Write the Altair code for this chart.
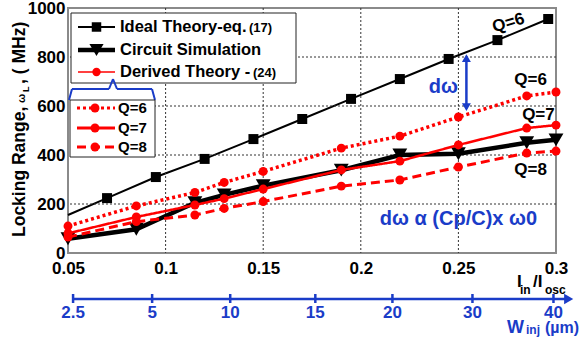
import altair as alt
import pandas as pd

FONT = "Liberation Sans"
BLUE = "#1a3cc8"
RED = "#ff0000"

# ---- data ----
ideal_x = [0.05, 0.07, 0.095, 0.12, 0.145, 0.17, 0.195, 0.22, 0.245, 0.27, 0.296]
ideal_y = [155, 224, 310, 384, 465, 547, 629, 710, 792, 869, 955]

ratio_x = [0.05, 0.085, 0.115, 0.13, 0.15, 0.19, 0.22, 0.25, 0.285, 0.3]
sim_y = [58, 97, 205, 237, 275, 338, 400, 405, 450, 462]
q6_y = [110, 192, 247, 288, 333, 428, 477, 555, 641, 657]
q7_y = [80, 147, 196, 222, 261, 339, 375, 441, 510, 522]
q8_y = [65, 128, 155, 182, 210, 273, 298, 351, 408, 416]

x_ticks = [0.05, 0.1, 0.15, 0.2, 0.25, 0.3]
y_ticks = [0, 200, 400, 600, 800, 1000]
x_grid = [0.1, 0.15, 0.2, 0.25]
y_grid = [200, 400, 600, 800]

# secondary (injection width) axis: labels and their position on the Iin/Iosc scale
w_labels = ["2.5", "5", "10", "15", "20", "30", "40"]
w_pos = [0.0526, 0.0931, 0.1331, 0.1767, 0.2162, 0.2572, 0.2987]

df_ideal = pd.DataFrame({"x": ideal_x, "y": ideal_y})
df_red = pd.DataFrame({"x": ratio_x, "sim": sim_y, "q6": q6_y, "q7": q7_y, "q8": q8_y})
df_w = pd.DataFrame({"lab": w_labels, "pos": w_pos})
df_xg = pd.DataFrame({"g": x_grid})
df_yg = pd.DataFrame({"g": y_grid})
one = pd.DataFrame({"a": [0]})

xs = alt.Scale(domain=[0.05, 0.3], nice=False, zero=False)
ys = alt.Scale(domain=[0, 1000], nice=False, zero=False)

xaxis = alt.Axis(values=x_ticks, format="~g", labelFont=FONT, labelFontWeight="bold",
                 labelFontSize=17, labelPadding=7, domain=False, ticks=False, grid=False,
                 title=None, labelColor="black", labelFlush=False, labelOverlap=False)
yaxis = alt.Axis(values=y_ticks, format="d", labelFont=FONT, labelFontWeight="bold",
                 labelFontSize=17, labelPadding=3, domain=False, ticks=False, grid=False,
                 title=None, labelColor="black", labelOverlap=False)


def X(field):
    return alt.X(field, type="quantitative", scale=xs, axis=xaxis)


def Y(field):
    return alt.Y(field, type="quantitative", scale=ys, axis=yaxis)


def XD(v):
    return alt.XDatum(v, scale=xs, axis=xaxis)


def YD(v):
    return alt.YDatum(v, scale=ys, axis=yaxis)


def txt(s, px, py, size=16, color="black", align="left", angle=0, weight="bold", baseline="middle"):
    return alt.Chart(one).mark_text(text=s, fontSize=size, font=FONT, fontWeight=weight,
                                    color=color, align=align, baseline=baseline,
                                    angle=angle).encode(x=alt.value(px), y=alt.value(py))


def dtxt(s, dx, dy, size=17, color="black", angle=0):
    return alt.Chart(one).mark_text(text=s, fontSize=size, font=FONT, fontWeight="bold",
                                    color=color, align="center", baseline="middle",
                                    angle=angle).encode(x=XD(dx), y=YD(dy))


def seg(x1, y1, x2, y2, color=BLUE, w=2):
    return alt.Chart(one).mark_rule(color=color, strokeWidth=w).encode(
        x=alt.value(x1), y=alt.value(y1), x2=alt.value(x2), y2=alt.value(y2))


layers = []
# series first (carry the axes)
layers.append(alt.Chart(df_ideal).mark_line(color="black", strokeWidth=2).encode(
    x=X("x"), y=Y("y")))
# grid
layers.append(alt.Chart(df_xg).mark_rule(color="#333", strokeDash=[2, 2], strokeWidth=1).encode(x=X("g")))
layers.append(alt.Chart(df_yg).mark_rule(color="#333", strokeDash=[2, 2], strokeWidth=1).encode(y=Y("g")))

layers.append(alt.Chart(df_ideal).transform_filter("datum.x > 0.05").mark_point(
    shape="square", filled=True, size=100, color="black", opacity=1).encode(x=X("x"), y=Y("y")))

layers.append(alt.Chart(df_red).mark_line(color="black", strokeWidth=4.5).encode(x=X("x"), y=Y("sim")))
layers.append(alt.Chart(df_red).mark_point(shape="triangle-down", filled=True, size=220,
                                           color="black", opacity=1).encode(x=X("x"), y=Y("sim")))

for field, dash, w in [("q6", [3, 3], 3.5), ("q7", [1, 0], 2.5), ("q8", [9, 5], 3)]:
    layers.append(alt.Chart(df_red).mark_line(color=RED, strokeWidth=w, strokeDash=dash).encode(
        x=X("x"), y=Y(field)))
    layers.append(alt.Chart(df_red).mark_point(shape="circle", filled=True, size=80, color=RED,
                                               opacity=1).encode(x=X("x"), y=Y(field)))

# annotations in data space
layers.append(dtxt("Q=6", 0.2756, 939, angle=343))
layers.append(dtxt("Q=6", 0.287, 706))
layers.append(dtxt("Q=7", 0.291, 563))
layers.append(dtxt("Q=8", 0.287, 339))
layers.append(dtxt("dω", 0.2423, 678, size=20, color=BLUE))
layers.append(dtxt("dω α (Cp/C)x ω0", 0.25, 139, size=20, color=BLUE))
layers.append(alt.Chart(one).mark_rule(color=BLUE, strokeWidth=2.5).encode(
    x=XD(0.2541), y=YD(800), y2=alt.Y2Datum(590)))
layers.append(alt.Chart(one).mark_point(shape="triangle-up", filled=True, size=80, color=BLUE, opacity=1).encode(
    x=XD(0.2541), y=YD(795)))
layers.append(alt.Chart(one).mark_point(shape="triangle-down", filled=True, size=80, color=BLUE, opacity=1).encode(
    x=XD(0.2541), y=YD(595)))

# legend box 1
layers.append(alt.Chart(one).mark_rect(fill="white", stroke="#222", strokeWidth=1).encode(
    x=alt.value(3), x2=alt.value(228), y=alt.value(5), y2=alt.value(75)))
layers.append(seg(10, 19, 47, 19, "black", 2))
layers.append(alt.Chart(one).mark_point(shape="square", filled=True, size=90, color="black", opacity=1).encode(
    x=alt.value(28.5), y=alt.value(19)))
layers.append(seg(10, 42, 47, 42, "black", 4.5))
layers.append(alt.Chart(one).mark_point(shape="triangle-down", filled=True, size=200, color="black", opacity=1).encode(
    x=alt.value(28.5), y=alt.value(42)))
layers.append(seg(10, 64, 47, 64, RED, 1.5))
layers.append(alt.Chart(one).mark_point(shape="circle", filled=True, size=70, color=RED, opacity=1).encode(
    x=alt.value(28.5), y=alt.value(64)))
layers.append(txt("Ideal Theory-eq.", 52, 19, 16.5))
layers.append(txt("(17)", 181, 20, 13))
layers.append(txt("Circuit Simulation", 52, 42, 16.5))
layers.append(txt("Derived Theory -", 52, 64, 16.5))
layers.append(txt("(24)", 185, 65, 13))

# brace
layers.append(seg(1, 92, 4, 81))
layers.append(seg(4, 81, 41, 81))
layers.append(seg(41, 81, 45, 71))
layers.append(seg(45, 71, 49, 81))
layers.append(seg(49, 81, 84, 81))
layers.append(seg(84, 81, 87, 92))

# legend box 2
layers.append(alt.Chart(one).mark_rect(fill="white", stroke="#222", strokeWidth=1).encode(
    x=alt.value(2), x2=alt.value(87), y=alt.value(92), y2=alt.value(149)))
for py, dash, lab in [(100, [3, 3], "Q=6"), (120, [1, 0], "Q=7"), (139, [9, 5], "Q=8")]:
    layers.append(alt.Chart(one).mark_rule(color=RED, strokeWidth=3, strokeDash=dash).encode(
        x=alt.value(9), x2=alt.value(47), y=alt.value(py)))
    layers.append(alt.Chart(one).mark_point(shape="circle", filled=True, size=80, color=RED, opacity=1).encode(
        x=alt.value(27), y=alt.value(py)))
    layers.append(txt(lab, 50, py, 15))

# y-axis title (rotated, with small omega and subscript L)
layers.append(txt("Locking Range,", -48, 229, 17.5, angle=270))
layers.append(txt("ω", -46, 95, 11, angle=270))
layers.append(txt("L", -42, 84, 9, angle=270))
layers.append(txt(", ( MHz)", -48, 76, 17.5, angle=270))

# x-axis title I_in / I_osc
layers.append(txt("I", 449, 274, 17))
layers.append(txt("in", 452, 282, 12))
layers.append(txt("/I", 465, 274, 17))
layers.append(txt("osc", 477, 282, 12))

# secondary blue axis (injection width)
layers.append(alt.Chart(one).mark_rule(color=BLUE, strokeWidth=2.5).encode(
    x=XD(0.0526), x2=alt.X2Datum(0.306), y=alt.value(291)))
layers.append(alt.Chart(one).mark_point(shape="triangle-right", filled=True, size=110, color=BLUE, opacity=1).encode(
    x=XD(0.3065), y=alt.value(291)))
layers.append(alt.Chart(df_w).mark_rule(color=BLUE, strokeWidth=2.5).encode(
    x=X("pos"), y=alt.value(286), y2=alt.value(295)))
layers.append(alt.Chart(df_w).mark_text(font=FONT, fontWeight="bold", fontSize=17, color=BLUE,
                                        baseline="middle", align="center").encode(
    x=X("pos"), y=alt.value(305), text="lab:N"))
layers.append(txt("W", 439, 320, 18, color=BLUE))
layers.append(txt("inj", 458, 322, 12, color=BLUE))
layers.append(txt("(µm)", 477, 320, 16, color=BLUE))

chart = alt.layer(*layers).properties(
    width=488, height=245,
    padding={"left": 68, "top": 8, "right": 23, "bottom": 94},
    autosize=alt.AutoSizeParams(type="none"),
).configure_view(stroke="#8a8a8a", strokeWidth=2)

chart.save("out.html", embed_options={"renderer": "svg", "actions": False})
